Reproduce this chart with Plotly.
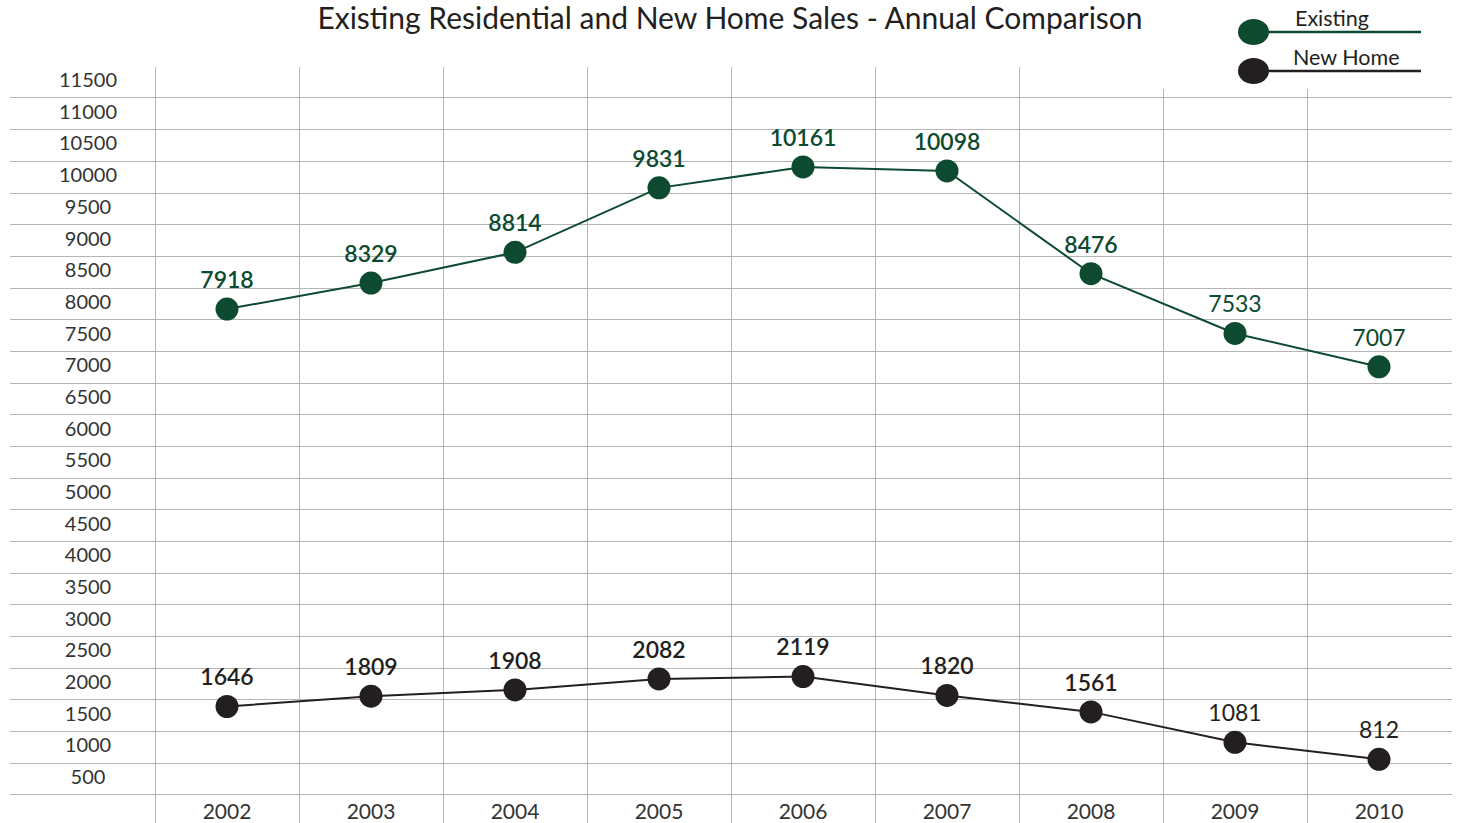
import plotly.graph_objects as go

years = [2002, 2003, 2004, 2005, 2006, 2007, 2008, 2009, 2010]
existing = [7918, 8329, 8814, 9831, 10161, 10098, 8476, 7533, 7007]
new_home = [1646, 1809, 1908, 2082, 2119, 1820, 1561, 1081, 812]
label_weights = [600, 600, 600, 600, 600, 600, 600, 400, 400]
y_tick_vals = list(range(500, 12000, 500))
y_grid_vals = [v - 250 for v in y_tick_vals]
x_grid_vals = [y - 0.5 for y in years] + [years[-1] + 0.5]

GREEN = "#0d4a30"
BLACK = "#231f20"
GRID = "#b5b5b5"
FONT = "Lato"

W, H = 1457, 823
ML, MR, MT, MB = 10, 5, 67, 0
PX_PER_YEAR = 144
x0 = 2001.5 - (155 - ML) / PX_PER_YEAR
x1 = x0 + (W - ML - MR) / PX_PER_YEAR
y_px_per_unit = 697 / 11000
y_zero_px = 810.8
y_lo = (y_zero_px - (H - MB)) / y_px_per_unit
y_hi = (y_zero_px - MT) / y_px_per_unit

fig = go.Figure()

fig.add_trace(go.Scatter(
    x=years, y=existing, mode="lines+markers+text", name="Existing",
    line=dict(color=GREEN, width=2),
    marker=dict(color=GREEN, size=23),
    text=[str(v) for v in existing], textposition="top center",
    textfont=dict(family=FONT, size=23, color=GREEN, weight=label_weights),
    cliponaxis=False, showlegend=False,
))
fig.add_trace(go.Scatter(
    x=years, y=new_home, mode="lines+markers+text", name="New Home",
    line=dict(color=BLACK, width=2),
    marker=dict(color=BLACK, size=23),
    text=[str(v) for v in new_home], textposition="top center",
    textfont=dict(family=FONT, size=23, color=BLACK, weight=label_weights),
    cliponaxis=False, showlegend=False,
))
# y tick labels, centred in the left column
fig.add_trace(go.Scatter(
    x=[x0 + (88 - ML) / PX_PER_YEAR] * len(y_tick_vals), y=y_tick_vals,
    mode="text", text=[str(v) for v in y_tick_vals],
    textfont=dict(family=FONT, size=20, color="#333333"),
    hoverinfo="skip", showlegend=False, cliponaxis=False,
))

fig.update_xaxes(
    range=[x0, x1], tickvals=years, ticktext=[str(y) for y in years],
    showgrid=False, zeroline=False, showline=False, ticks="",
    ticklabelposition="inside", ticklabelstandoff=-3,
    tickfont=dict(family=FONT, size=21, color="#333333"),
    minor=dict(tickvals=x_grid_vals, showgrid=True, gridcolor=GRID, gridwidth=1, ticks=""),
)
fig.update_yaxes(
    range=[y_lo, y_hi], showticklabels=False, showgrid=False, zeroline=False,
    showline=False, ticks="",
    minor=dict(tickvals=y_grid_vals, showgrid=True, gridcolor=GRID, gridwidth=1, ticks=""),
)

def px(x):
    return (x - ML) / (W - ML - MR)

def py(y):
    return ((H - MB) - y) / (H - MT - MB)

shapes = [
    dict(type="rect", xref="paper", yref="paper", x0=px(1150), x1=px(1457), y0=py(89), y1=py(60),
         fillcolor="white", line=dict(width=0), layer="above"),
]
annotations = []
for (txt, col, ly, tx, ty) in [("Existing", GREEN, 32, 1332, 18), ("New Home", BLACK, 71, 1346, 57)]:
    shapes.append(dict(type="line", xref="paper", yref="paper", x0=px(1253), x1=px(1421),
                       y0=py(ly), y1=py(ly), line=dict(color=col, width=2.5)))
    shapes.append(dict(type="circle", xref="paper", yref="paper", x0=px(1238), x1=px(1269),
                       y0=py(ly + 13), y1=py(ly - 13), fillcolor=col, line=dict(width=0)))
    annotations.append(dict(text=txt, xref="paper", yref="paper", x=px(tx), y=py(ty),
                            xanchor="center", yanchor="middle", showarrow=False,
                            font=dict(family=FONT, size=21.5, color=BLACK)))

fig.update_layout(
    width=W, height=H, margin=dict(l=ML, r=MR, t=MT, b=MB),
    paper_bgcolor="white", plot_bgcolor="white",
    title=dict(text="Existing Residential and New Home Sales - Annual Comparison",
               x=730 / W, xanchor="center", y=1 - 18 / H, yanchor="middle",
               font=dict(family=FONT, size=30, color=BLACK)),
    shapes=shapes, annotations=annotations,
)

fig.write_html("out.html")
